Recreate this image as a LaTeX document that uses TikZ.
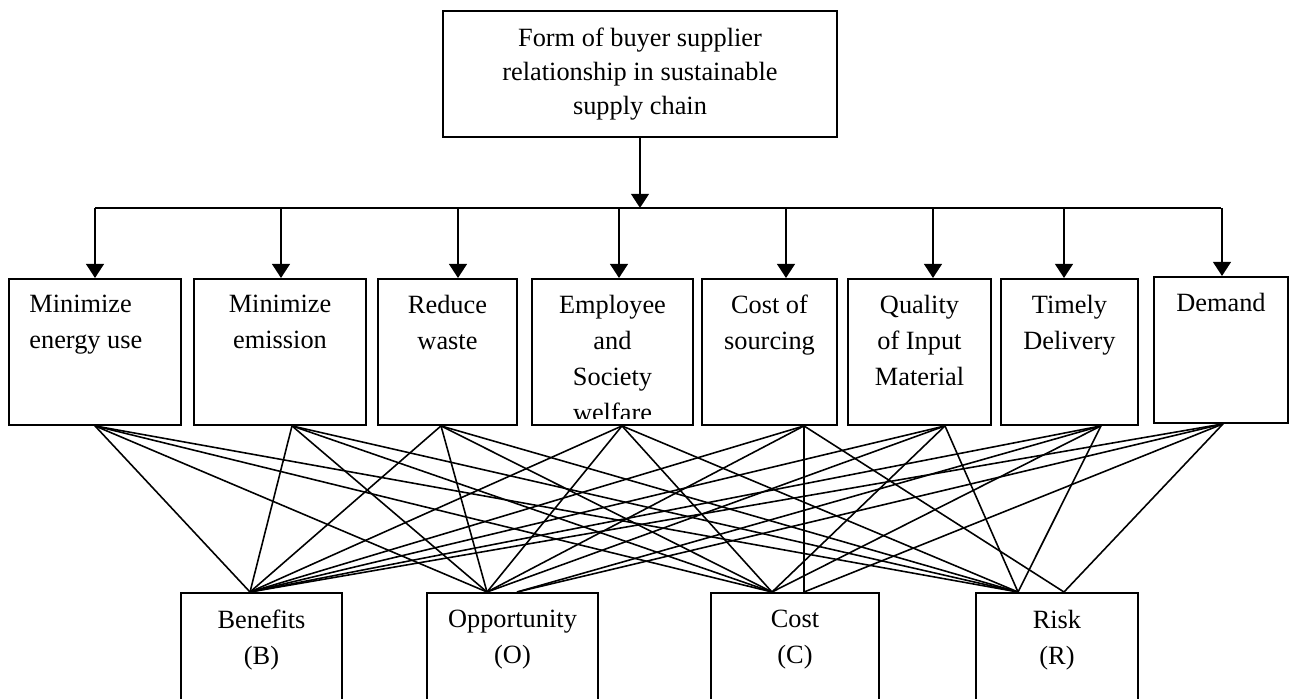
\documentclass[tikz,border=0pt]{standalone}
\usepackage{fontspec}
\setmainfont{Liberation Serif}
\usetikzlibrary{arrows.meta}

\tikzset{
  box/.style={draw, line width=1.1pt, inner sep=0pt},
  lbl/.style={font=\fontsize{15}{20.4}\selectfont, align=center, inner sep=0pt, anchor=north},
  arr/.style={line width=1.4pt, -{Triangle[length=8pt, width=10pt]}},
  link/.style={line width=0.9pt}
}

\begin{document}
\begin{tikzpicture}[x=0.02cm, y=-0.02cm]
	\useasboundingbox (0,0) rectangle (1296,698);
	\clip (0,0) rectangle (1296,698);

	% goal
	\node[box, minimum width=7.88cm, minimum height=2.52cm] (goal) at (640,74) {};
	\node[lbl, font=\fontsize{15}{19.3}\selectfont] at ([yshift=-0.36cm]goal.north) {Form of buyer supplier\\relationship in sustainable\\supply chain};

	% criteria
	\node[box, minimum width=3.44cm, minimum height=2.92cm, anchor=north] (c1) at (95,278) {};
	\node[box, minimum width=3.44cm, minimum height=2.92cm, anchor=north] (c2) at (280,278) {};
	\node[box, minimum width=2.78cm, minimum height=2.92cm, anchor=north] (c3) at (447.5,278) {};
	\node[box, minimum width=3.22cm, minimum height=2.92cm, anchor=north] (c4) at (612.5,278) {};
	\node[box, minimum width=2.70cm, minimum height=2.92cm, anchor=north] (c5) at (769.5,278) {};
	\node[box, minimum width=2.86cm, minimum height=2.92cm, anchor=north] (c6) at (919.5,278) {};
	\node[box, minimum width=2.74cm, minimum height=2.92cm, anchor=north] (c7) at (1069.5,278) {};
	\node[box, minimum width=2.68cm, minimum height=2.92cm, anchor=north] (c8) at (1221,276) {};

	\node[lbl, align=left, anchor=north west] at ([xshift=0.42cm, yshift=-0.34cm]c1.north west) {Minimize\\energy use};
	\node[lbl] at ([yshift=-0.34cm]c2.north) {Minimize\\emission};
	\node[lbl] at ([yshift=-0.34cm]c3.north) {Reduce\\waste};
	\begin{scope}
		\clip (c4.north west) rectangle ([yshift=0.15cm]c4.south east);
		\node[lbl] at ([yshift=-0.34cm]c4.north) {Employee\\and\\Society\\welfare};
	\end{scope}
	\node[lbl] at ([yshift=-0.34cm]c5.north) {Cost of\\sourcing};
	\node[lbl] at ([yshift=-0.34cm]c6.north) {Quality\\of Input\\Material};
	\node[lbl] at ([yshift=-0.34cm]c7.north) {Timely\\Delivery};
	\node[lbl] at ([yshift=-0.34cm]c8.north) {Demand};

	% alternatives
	\node[box, minimum width=3.22cm, minimum height=2.6cm, anchor=north] (ben) at (261.5,592) {};
	\node[box, minimum width=3.42cm, minimum height=2.6cm, anchor=north] (opp) at (512.5,592) {};
	\node[box, minimum width=3.36cm, minimum height=2.6cm, anchor=north] (cost) at (795,592) {};
	\node[box, minimum width=3.24cm, minimum height=2.6cm, anchor=north] (risk) at (1057,592) {};

	\node[lbl] at ([yshift=-0.36cm]ben.north) {Benefits\\(B)};
	\node[lbl] at ([yshift=-0.36cm]opp.north) {Opportunity\\(O)};
	\node[lbl] at ([yshift=-0.36cm]cost.north) {Cost\\(C)};
	\node[lbl] at ([yshift=-0.36cm]risk.north) {Risk\\(R)};

	% goal to criteria
	\coordinate (hub) at ([yshift=-1.4cm]goal.south);
	\draw[arr] (goal.south) -- (hub);
	\draw[line width=1.1pt] (c1.north |- hub) -- (c8.north |- hub);
	\draw[arr] (c1.north |- hub) -- (c1.north);
	\draw[arr] ([xshift=0.02cm]c2.north |- hub) -- ([xshift=0.02cm]c2.north);
	\draw[arr] ([xshift=0.21cm]c3.north |- hub) -- ([xshift=0.21cm]c3.north);
	\draw[arr] ([xshift=0.13cm]c4.north |- hub) -- ([xshift=0.13cm]c4.north);
	\draw[arr] ([xshift=0.33cm]c5.north |- hub) -- ([xshift=0.33cm]c5.north);
	\draw[arr] ([xshift=0.27cm]c6.north |- hub) -- ([xshift=0.27cm]c6.north);
	\draw[arr] ([xshift=-0.11cm]c7.north |- hub) -- ([xshift=-0.11cm]c7.north);
	\draw[arr] ([xshift=0.02cm]c8.north |- hub) -- ([xshift=0.02cm]c8.north);

	% criteria to alternatives
	\coordinate (t1) at (c1.south);
	\coordinate (t2) at ([xshift=0.24cm]c2.south);
	\coordinate (t3) at ([xshift=-0.13cm]c3.south);
	\coordinate (t4) at ([xshift=0.19cm]c4.south);
	\coordinate (t5) at ([xshift=0.69cm]c5.south);
	\coordinate (t6) at ([xshift=0.51cm]c6.south);
	\coordinate (t7) at ([xshift=0.63cm]c7.south);
	\coordinate (t8) at ([xshift=0.04cm]c8.south);
	\coordinate (b) at ([xshift=-0.23cm]ben.north);
	\coordinate (o) at ([xshift=-0.51cm]opp.north);
	\coordinate (o2) at ([xshift=0.09cm]opp.north);
	\coordinate (c) at ([xshift=-0.46cm]cost.north);
	\coordinate (c2) at ([xshift=0.18cm]cost.north);
	\coordinate (r) at ([xshift=-0.78cm]risk.north);
	\coordinate (r2) at ([xshift=0.14cm]risk.north);

	\foreach \s in {t1,t2,t3,t4,t6}
		\foreach \e in {b,o,c,r}
			\draw[link] (\s) -- (\e);
	\foreach \s/\e in {t5/b, t5/o, t5/c2, t5/r2, t7/b, t7/o2, t7/c, t7/r, t8/b, t8/o2, t8/c2, t8/r2}
		\draw[link] (\s) -- (\e);
\end{tikzpicture}
\end{document}
